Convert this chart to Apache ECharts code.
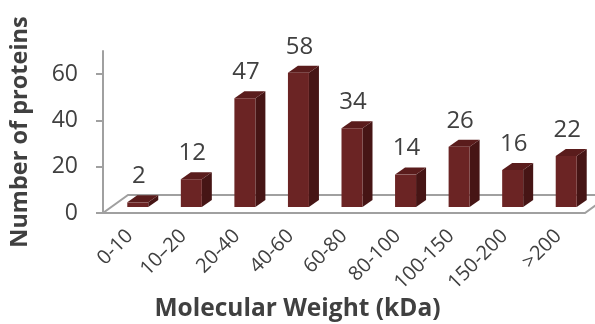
<!DOCTYPE html>
<html>
<head>
<meta charset="utf-8">
<script src="https://cdn.jsdelivr.net/npm/echarts@6/dist/echarts.min.js"></script>
<style>
html, body { margin: 0; padding: 0; background: #fff; }
#main { width: 595px; height: 324px; }
</style>
</head>
<body>
<div id="main"></div>
<script>
var categories = ['0-10', '10–20', '20-40', '40-60', '60-80', '80-100', '100-150', '150-200', '>200'];
var counts = [2, 12, 47, 58, 34, 14, 26, 16, 22];
var yTicks = [0, 20, 40, 60];

var chart = echarts.init(document.getElementById('main'));

// 3d look: bars sit a bit inside the floor, and have a side + top face
var DX = 8, DY = -6;
var SIDE = 10, RISE = 7;
var BAR_W = 21;

function renderFloor(params, api) {
    var p0 = api.coord([0, 0]);
    var bw = api.size([1, 0])[0];
    var x0 = p0[0] - bw / 2;
    var x1 = x0 + bw * categories.length;
    var y = p0[1];
    return {
        type: 'polygon',
        shape: { points: [[x0, y], [x1, y], [x1 + 25, y - 18], [x0 + 25, y - 18]] },
        style: { fill: '#fff', stroke: '#a0a0a0', lineWidth: 2 }
    };
}

function renderBar(params, api) {
    var base = api.coord([api.value(0), 0]);
    var top = api.coord([api.value(0), api.value(1)]);
    var cx = base[0] + DX;
    var xl = cx - BAR_W / 2, xr = cx + BAR_W / 2;
    var yb = base[1] + DY, yt = top[1] + DY;
    return {
        type: 'group',
        children: [
            { type: 'polygon', shape: { points: [[xr, yb], [xr + SIDE, yb - RISE], [xr + SIDE, yt - RISE], [xr, yt]] }, style: { fill: '#461515' } },
            { type: 'polygon', shape: { points: [[xl, yt], [xr, yt], [xr + SIDE, yt - RISE], [xl + SIDE, yt - RISE]] }, style: { fill: '#5a1c1c' } },
            { type: 'rect', shape: { x: xl, y: yt, width: BAR_W, height: yb - yt }, style: { fill: '#6b2424' } },
            { type: 'text', x: cx + 1, y: yt - RISE - 19,
              style: { text: String(api.value(1)), fill: '#404040', fontSize: 24, fontFamily: 'Open Sans', align: 'center', verticalAlign: 'middle' } }
        ]
    };
}

var option = {
    animation: false,
    title: {
        text: 'Molecular Weight (kDa)',
        left: 'center',
        top: 297,
        padding: 0,
        textStyle: { fontSize: 24.5, fontWeight: 'bold', color: '#404040', fontFamily: 'Open Sans' }
    },
    grid: { left: 103, right: 10, top: 51, bottom: 111 },
    xAxis: {
        type: 'category',
        data: categories,
        axisLine: { show: false },
        axisTick: { show: false },
        axisLabel: { interval: 0, rotate: 45, margin: 20, fontSize: 20, color: '#404040', fontFamily: 'Open Sans' }
    },
    yAxis: {
        type: 'value',
        min: 0,
        max: 70,
        name: 'Number of proteins',
        nameLocation: 'middle',
        nameGap: 71,
        nameTextStyle: { fontSize: 23.5, fontWeight: 'bold', color: '#404040', fontFamily: 'Open Sans' },
        axisLine: { show: true, lineStyle: { color: '#a0a0a0', width: 2 } },
        axisTick: { show: true, length: 7, customValues: yTicks, lineStyle: { color: '#a0a0a0', width: 2 } },
        axisLabel: { customValues: yTicks, margin: 25, fontSize: 23, color: '#404040', fontFamily: 'Open Sans' },
        splitLine: { show: false }
    },
    series: [
        {
            type: 'custom',
            renderItem: renderFloor,
            data: [[0, 0]],
            encode: { x: 0, y: 1 },
            silent: true,
            z: 1
        },
        {
            type: 'custom',
            renderItem: renderBar,
            data: counts.map(function (v, i) { return [i, v]; }),
            encode: { x: 0, y: 1 },
            z: 2
        }
    ]
};

chart.setOption(option);
</script>
</body>
</html>
